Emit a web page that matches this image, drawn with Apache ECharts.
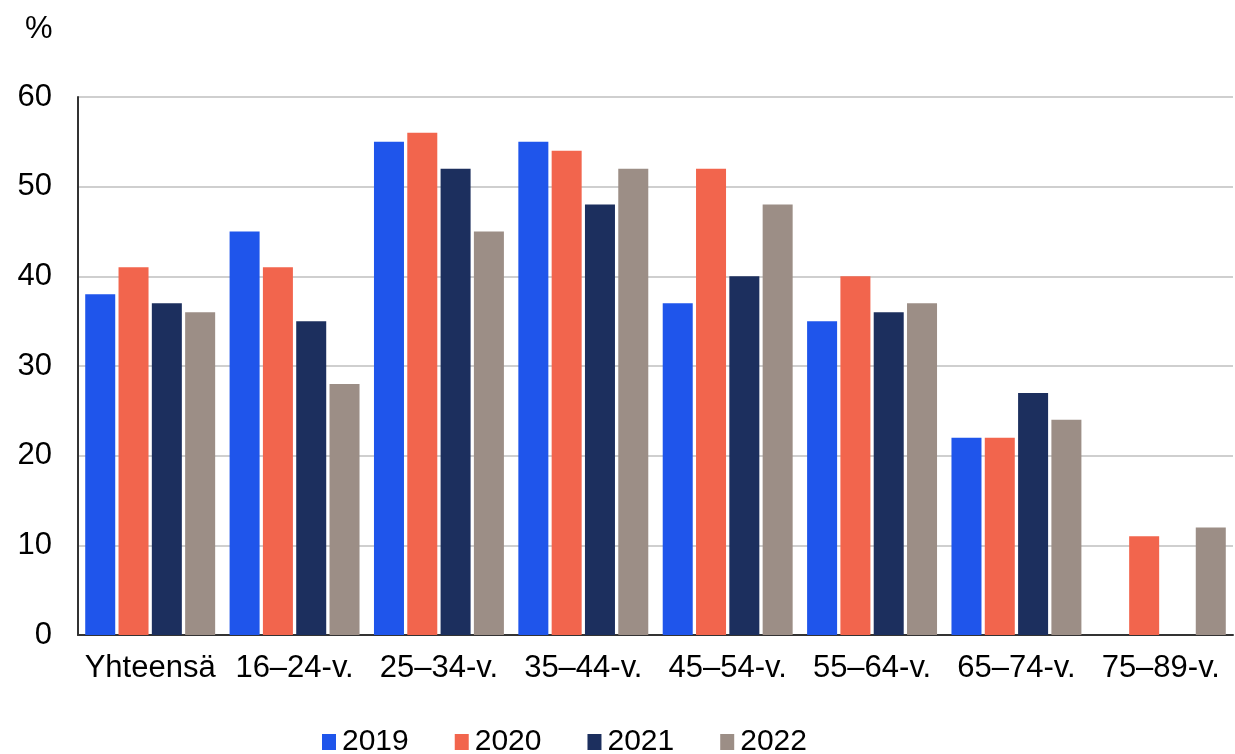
<!DOCTYPE html>
<html>
<head>
<meta charset="utf-8">
<script src="https://cdn.jsdelivr.net/npm/echarts@6/dist/echarts.min.js"></script>
<style>
  html, body { margin: 0; padding: 0; background: #fff; }
  #chart { width: 1235px; height: 754px; }
</style>
</head>
<body>
<div id="chart"></div>
<script>
// ikäryhmät
const categories = ['Yhteensä', '16–24-v.', '25–34-v.', '35–44-v.', '45–54-v.', '55–64-v.', '65–74-v.', '75–89-v.'];
const years = ['2019', '2020', '2021', '2022'];
const v2019 = [38, 45, 55, 55, 37, 35, 22, null];
const v2020 = [41, 41, 56, 54, 52, 40, 22, 11];
const v2021 = [37, 35, 52, 48, 40, 36, 27, null];
const v2022 = [36, 28, 45, 52, 48, 37, 24, 12];
const yTicks = [0, 10, 20, 30, 40, 50, 60];

const colors = ['#1f55eb', '#f2654d', '#1c2f5e', '#9c8e86'];
const font = 'Liberation Sans, Arial, sans-serif';

const chart = echarts.init(document.getElementById('chart'));
const seriesData = [v2019, v2020, v2021, v2022];

chart.setOption({
  animation: false,
  color: colors,
  textStyle: { fontFamily: font },
  title: {
    text: '%',
    left: 20,
    top: 9,
    textStyle: { fontSize: 31, fontWeight: 'normal', color: '#000', fontFamily: font }
  },
  grid: { left: 78, right: 2, top: 97, bottom: 119, containLabel: false },
  legend: {
    left: 317,
    top: 722,
    itemWidth: 14,
    itemHeight: 16,
    itemGap: 46,
    icon: 'rect',
    textStyle: { fontSize: 30, color: '#000', fontFamily: font, padding: [0, 0, 0, 1] },
    data: years
  },
  xAxis: {
    type: 'category',
    data: categories,
    axisLine: { lineStyle: { color: '#333', width: 2 } },
    axisTick: { show: false },
    axisLabel: { fontSize: 31, color: '#000', margin: 18, interval: 0 }
  },
  yAxis: {
    type: 'value',
    min: yTicks[0],
    max: yTicks[yTicks.length - 1],
    interval: 10,
    axisLine: { show: true, lineStyle: { color: '#333', width: 2 } },
    axisTick: { show: false },
    axisLabel: { fontSize: 31, color: '#000', margin: 26 },
    splitLine: { lineStyle: { color: '#bfbfbf', width: 1.5 } }
  },
  series: years.map((y, i) => ({
    name: y,
    type: 'bar',
    data: seriesData[i],
    barGap: '11%',
    barCategoryGap: '10%',
    itemStyle: { color: colors[i] }
  }))
});
</script>
</body>
</html>
